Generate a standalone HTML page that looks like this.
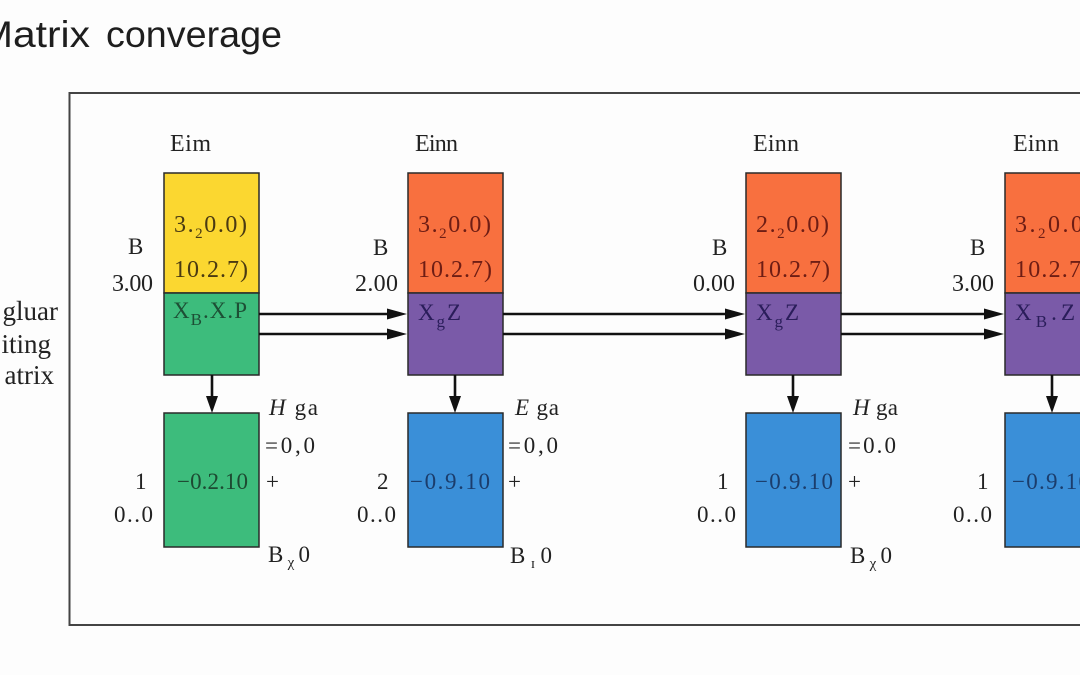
<!DOCTYPE html>
<html><head><meta charset="utf-8"><style>
html,body{margin:0;padding:0;background:#fff;}
svg{display:block;}
.s{font-family:"Liberation Serif",serif;font-size:23px;fill:#222;}
.b{font-size:24px;}
.t{font-family:"Liberation Sans",sans-serif;font-size:37px;fill:#1e1e1e;}
.sub{font-size:15px;}
.subx{font-size:17px;}
</style></head><body>
<svg width="1080" height="675" viewBox="0 0 1080 675" xmlns="http://www.w3.org/2000/svg">
<rect width="1080" height="675" fill="#fdfdfd"/>
<text class="t" x="-21" y="47" textLength="111" lengthAdjust="spacingAndGlyphs">Matrix</text>
<text class="t" x="106" y="47" textLength="176" lengthAdjust="spacingAndGlyphs">converage</text>

<!-- frame -->
<path d="M1082 93 H69.5 V625 H1082" fill="none" stroke="#444" stroke-width="2"/>

<!-- left labels -->
<text class="s" style="font-size:27px" x="58" y="320" text-anchor="end">gluar</text>
<text class="s" style="font-size:27px" x="51" y="353" text-anchor="end">iting</text>
<text class="s" style="font-size:27px" x="54" y="384" text-anchor="end">atrix</text>

<!-- boxes -->
<g stroke="#2a2a2a" stroke-width="1.5">
<rect x="164" y="173" width="95" height="120" fill="#fbd730"/>
<rect x="164" y="293" width="95" height="82" fill="#3dbc7c"/>
<rect x="164" y="413" width="95" height="134" fill="#3dbc7c"/>

<rect x="408" y="173" width="95" height="120" fill="#f8703f"/>
<rect x="408" y="293" width="95" height="82" fill="#7a5aa8"/>
<rect x="408" y="413" width="95" height="134" fill="#3a8fd8"/>

<rect x="746" y="173" width="95" height="120" fill="#f8703f"/>
<rect x="746" y="293" width="95" height="82" fill="#7a5aa8"/>
<rect x="746" y="413" width="95" height="134" fill="#3a8fd8"/>

<rect x="1005" y="173" width="95" height="120" fill="#f8703f"/>
<rect x="1005" y="293" width="95" height="82" fill="#7a5aa8"/>
<rect x="1005" y="413" width="95" height="134" fill="#3a8fd8"/>
</g>

<!-- horizontal arrows -->
<g stroke="#111" stroke-width="2.6">
<line x1="259" y1="314" x2="392" y2="314"/><line x1="259" y1="334" x2="392" y2="334"/>
<line x1="503" y1="314" x2="730" y2="314"/><line x1="503" y1="334" x2="730" y2="334"/>
<line x1="841" y1="314" x2="989" y2="314"/><line x1="841" y1="334" x2="989" y2="334"/>
</g>
<g fill="#111">
<polygon points="387,308.5 407,314 387,319.5"/><polygon points="387,328.5 407,334 387,339.5"/>
<polygon points="725,308.5 745,314 725,319.5"/><polygon points="725,328.5 745,334 725,339.5"/>
<polygon points="984,308.5 1004,314 984,319.5"/><polygon points="984,328.5 1004,334 984,339.5"/>
</g>

<!-- down arrows -->
<g stroke="#111" stroke-width="2.6">
<line x1="212" y1="375" x2="212" y2="400"/>
<line x1="455" y1="375" x2="455" y2="400"/>
<line x1="793" y1="375" x2="793" y2="400"/>
<line x1="1052" y1="375" x2="1052" y2="400"/>
</g>
<g fill="#111">
<polygon points="206,396 218,396 212,413"/>
<polygon points="449,396 461,396 455,413"/>
<polygon points="787,396 799,396 793,413"/>
<polygon points="1046,396 1058,396 1052,413"/>
</g>

<!-- Box 1 texts -->
<text class="s b" x="170" y="151" textLength="41">Eim</text>
<text class="s" x="128" y="254">B</text>
<text class="s b" x="112" y="291" textLength="41">3.00</text>
<text class="s b" x="174" y="232" textLength="73" style="fill:#4a3a12">3.<tspan class="sub" dy="6">2</tspan><tspan dy="-6">0.0)</tspan></text>
<text class="s b" x="174" y="277" textLength="74" style="fill:#4a3a12">10.2.7)</text>
<text class="s" x="173" y="318" textLength="74" style="fill:#1d4f35">X<tspan class="subx" dy="7">B</tspan><tspan dy="-7">.X.P</tspan></text>
<text class="s" x="269" y="415" textLength="49"><tspan font-style="italic">H</tspan> ga</text>
<text class="s" x="265" y="453" textLength="50">=0,0</text>
<text class="s" x="135" y="489">1</text>
<text class="s" x="177" y="489" textLength="71" style="fill:#1d4a32">−0.2.10</text>
<text class="s" x="266" y="489">+</text>
<text class="s" x="114" y="522" textLength="39">0..0</text>
<text class="s" x="268" y="562" textLength="42">B<tspan class="sub" dy="5">χ</tspan><tspan dy="-5">0</tspan></text>

<!-- Box 2 texts -->
<text class="s b" x="415" y="151" textLength="43">Einn</text>
<text class="s" x="373" y="255">B</text>
<text class="s b" x="355" y="291" textLength="43">2.00</text>
<text class="s b" x="418" y="232" textLength="73" style="fill:#6e1d14">3.<tspan class="sub" dy="6">2</tspan><tspan dy="-6">0.0)</tspan></text>
<text class="s b" x="418" y="277" textLength="74" style="fill:#6e1d14">10.2.7)</text>
<text class="s" x="418" y="320" textLength="43" style="fill:#2a1d5a">X<tspan class="subx" dy="7">g</tspan><tspan dy="-7">Z</tspan></text>
<text class="s" x="515" y="415" textLength="44"><tspan font-style="italic">E</tspan> ga</text>
<text class="s" x="508" y="453" textLength="50">=0,0</text>
<text class="s" x="377" y="489">2</text>
<text class="s" x="410" y="489" textLength="80" style="fill:#1b3d6c">−0.9.10</text>
<text class="s" x="508" y="489">+</text>
<text class="s" x="357" y="522" textLength="39">0..0</text>
<text class="s" x="510" y="563" textLength="42">B<tspan class="sub" dy="5">ɪ</tspan><tspan dy="-5">0</tspan></text>

<!-- Box 3 texts -->
<text class="s b" x="753" y="151" textLength="46">Einn</text>
<text class="s" x="712" y="255">B</text>
<text class="s b" x="693" y="291" textLength="42">0.00</text>
<text class="s b" x="756" y="232" textLength="73" style="fill:#6e1d14">2.<tspan class="sub" dy="6">2</tspan><tspan dy="-6">0.0)</tspan></text>
<text class="s b" x="756" y="277" textLength="74" style="fill:#6e1d14">10.2.7)</text>
<text class="s" x="756" y="320" textLength="43" style="fill:#2a1d5a">X<tspan class="subx" dy="7">g</tspan><tspan dy="-7">Z</tspan></text>
<text class="s" x="853" y="415" textLength="45"><tspan font-style="italic">H</tspan> ga</text>
<text class="s" x="848" y="453" textLength="48">=0.0</text>
<text class="s" x="717" y="489">1</text>
<text class="s" x="755" y="489" textLength="78" style="fill:#1b3d6c">−0.9.10</text>
<text class="s" x="848" y="489">+</text>
<text class="s" x="697" y="522" textLength="39">0..0</text>
<text class="s" x="850" y="563" textLength="42">B<tspan class="sub" dy="5">χ</tspan><tspan dy="-5">0</tspan></text>

<!-- Box 4 texts -->
<text class="s b" x="1013" y="151" textLength="46">Einn</text>
<text class="s" x="970" y="255">B</text>
<text class="s b" x="952" y="291" textLength="42">3.00</text>
<text class="s b" x="1015" y="232" textLength="68" style="fill:#6e1d14">3.<tspan class="sub" dy="6">2</tspan><tspan dy="-6">0.0</tspan></text>
<text class="s b" x="1015" y="277" textLength="66" style="fill:#6e1d14">10.2.7</text>
<text class="s" x="1015" y="320" textLength="60" style="fill:#2a1d5a">X<tspan class="subx" dy="7">B</tspan><tspan dy="-7">.Z</tspan></text>
<text class="s" x="977" y="489">1</text>
<text class="s" x="1012" y="489" textLength="78" style="fill:#1b3d6c">−0.9.10</text>
<text class="s" x="953" y="522" textLength="39">0..0</text>
</svg>
</body></html>
